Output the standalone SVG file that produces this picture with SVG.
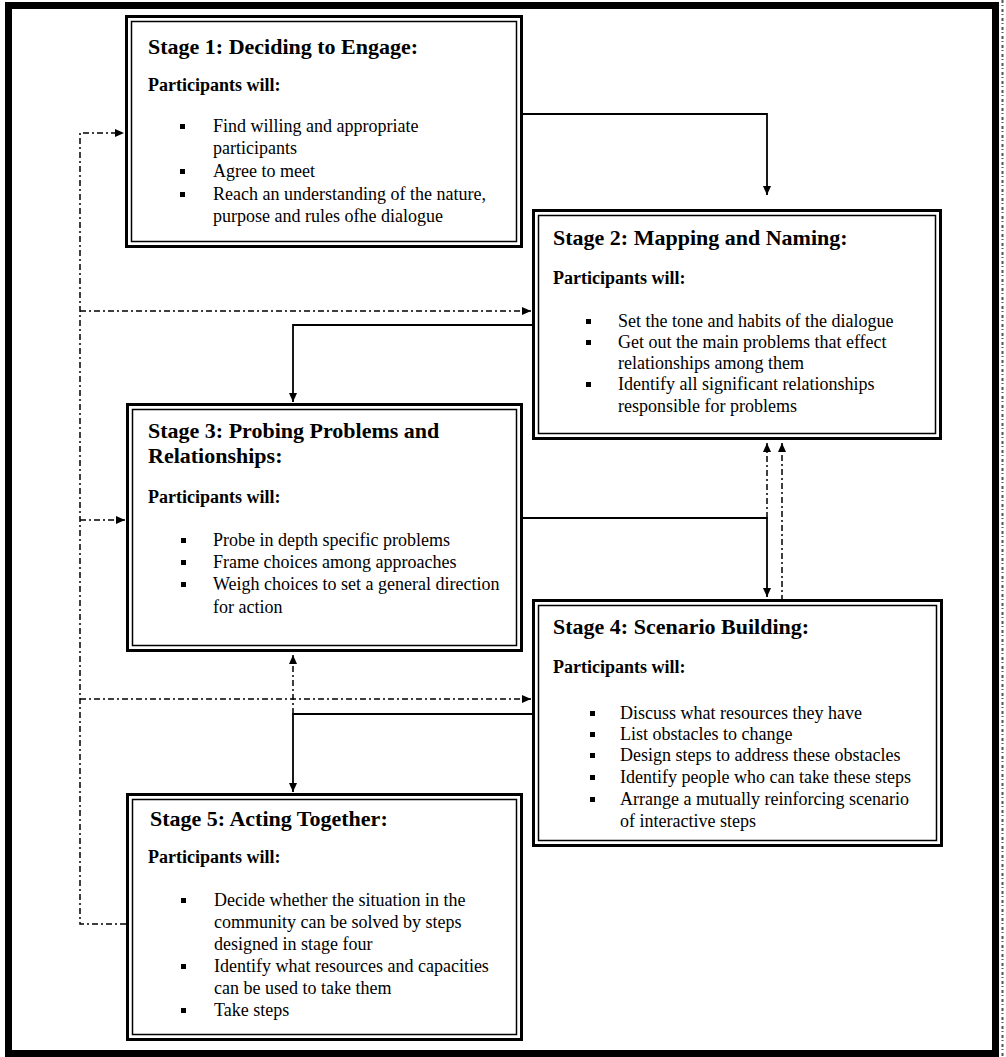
<svg xmlns="http://www.w3.org/2000/svg" width="1006" height="1057" viewBox="0 0 1006 1057">
<style>
.bo{fill:#fff;stroke:#000;stroke-width:3}
.bi{fill:none;stroke:#000;stroke-width:1.5}
.t{font-family:"Liberation Serif",serif;font-weight:bold;font-size:22px;fill:#000}
.s{font-family:"Liberation Serif",serif;font-weight:bold;font-size:18px;fill:#000}
.b{font-family:"Liberation Serif",serif;font-size:18px;fill:#000}
.sq{fill:#000}
.sol{fill:none;stroke:#000;stroke-width:1.8}
.dd{fill:none;stroke:#000;stroke-width:1.5;stroke-dasharray:6 3 2 3}
</style>
<defs>
<marker id="ah" markerUnits="userSpaceOnUse" markerWidth="9" markerHeight="8" refX="9" refY="4" orient="auto">
<path d="M0,0 L9,4 L0,8 z" fill="#000"/>
</marker>
</defs>
<rect x="0" y="0" width="1006" height="1057" fill="#fff"/>
<rect x="8.5" y="5.5" width="987" height="1048" fill="none" stroke="#000" stroke-width="7"/>
<line x1="1002.5" y1="0" x2="1002.5" y2="1057" stroke="#555" stroke-width="2" stroke-dasharray="3 2 1 3"/>

<g id="connectors">
<path class="sol" d="M523,114 H767 V195" marker-end="url(#ah)"/>
<path class="sol" d="M532,325 H293 V402" marker-end="url(#ah)"/>
<path class="sol" d="M523,518 H767 V597" marker-end="url(#ah)"/>
<path class="dd" d="M767,518 V443" marker-end="url(#ah)"/>
<path class="dd" d="M782,615 V443" marker-end="url(#ah)"/>
<path class="dd" d="M126,924 H80 V133 H124" marker-end="url(#ah)"/>
<path class="dd" d="M80,311 H531" marker-end="url(#ah)"/>
<path class="dd" d="M80,520 H125" marker-end="url(#ah)"/>
<path class="dd" d="M80,699 H531" marker-end="url(#ah)"/>
<path class="dd" d="M293,714 V655" marker-end="url(#ah)"/>
<path class="sol" d="M532,714 H293 V792" marker-end="url(#ah)"/>
</g>

<g id="stage1">
<rect class="bo" x="126.5" y="16.5" width="395" height="230"/>
<rect class="bi" x="131.5" y="21.5" width="385" height="220"/>
<text class="t" x="148" y="54">Stage 1: Deciding to Engage:</text>
<text class="s" x="148" y="91">Participants will:</text>
<rect class="sq" x="180" y="124" width="5" height="5"/>
<rect class="sq" x="180" y="169" width="5" height="5"/>
<rect class="sq" x="180" y="192" width="5" height="5"/>
<text class="b" x="213" y="132">Find willing and appropriate</text>
<text class="b" x="213" y="154">participants</text>
<text class="b" x="213" y="177">Agree to meet</text>
<text class="b" x="213" y="200">Reach an understanding of the nature,</text>
<text class="b" x="213" y="222">purpose and rules ofhe dialogue</text>
</g>

<g id="stage2">
<rect class="bo" x="533.5" y="210.5" width="407" height="228"/>
<rect class="bi" x="538.5" y="215.5" width="397" height="218"/>
<text class="t" x="553" y="245">Stage 2: Mapping and Naming:</text>
<text class="s" x="553" y="284">Participants will:</text>
<rect class="sq" x="586" y="319" width="5" height="5"/>
<rect class="sq" x="586" y="340" width="5" height="5"/>
<rect class="sq" x="586" y="382" width="5" height="5"/>
<text class="b" x="618" y="327">Set the tone and habits of the dialogue</text>
<text class="b" x="618" y="348">Get out the main problems that effect</text>
<text class="b" x="618" y="369">relationships among them</text>
<text class="b" x="618" y="390">Identify all significant relationships</text>
<text class="b" x="618" y="412">responsible for problems</text>
</g>

<g id="stage3">
<rect class="bo" x="127.5" y="404.5" width="394" height="246"/>
<rect class="bi" x="132.5" y="409.5" width="384" height="236"/>
<text class="t" x="148" y="438">Stage 3: Probing Problems and</text>
<text class="t" x="148" y="463">Relationships:</text>
<text class="s" x="148" y="503">Participants will:</text>
<rect class="sq" x="181" y="538" width="5" height="5"/>
<rect class="sq" x="181" y="560" width="5" height="5"/>
<rect class="sq" x="181" y="582" width="5" height="5"/>
<text class="b" x="213" y="546">Probe in depth specific problems</text>
<text class="b" x="213" y="568">Frame choices among approaches</text>
<text class="b" x="213" y="590">Weigh choices to set a general direction</text>
<text class="b" x="213" y="613">for action</text>
</g>

<g id="stage4">
<rect class="bo" x="533.5" y="600.5" width="408" height="245"/>
<rect class="bi" x="538.5" y="605.5" width="398" height="235"/>
<text class="t" x="553" y="634">Stage 4: Scenario Building:</text>
<text class="s" x="553" y="673">Participants will:</text>
<rect class="sq" x="590" y="711" width="5" height="5"/>
<rect class="sq" x="590" y="732" width="5" height="5"/>
<rect class="sq" x="590" y="753" width="5" height="5"/>
<rect class="sq" x="590" y="775" width="5" height="5"/>
<rect class="sq" x="590" y="797" width="5" height="5"/>
<text class="b" x="620" y="719">Discuss what resources they have</text>
<text class="b" x="620" y="740">List obstacles to change</text>
<text class="b" x="620" y="761">Design steps to address these obstacles</text>
<text class="b" x="620" y="783">Identify people who can take these steps</text>
<text class="b" x="620" y="805">Arrange a mutually reinforcing scenario</text>
<text class="b" x="620" y="827">of interactive steps</text>
</g>

<g id="stage5">
<rect class="bo" x="127.5" y="794.5" width="394" height="245"/>
<rect class="bi" x="132.5" y="799.5" width="384" height="235"/>
<text class="t" x="150" y="826">Stage 5: Acting Together:</text>
<text class="s" x="148" y="863">Participants will:</text>
<rect class="sq" x="181" y="898" width="5" height="5"/>
<rect class="sq" x="181" y="964" width="5" height="5"/>
<rect class="sq" x="181" y="1008" width="5" height="5"/>
<text class="b" x="214" y="906">Decide whether the situation in the</text>
<text class="b" x="214" y="928">community can be solved by steps</text>
<text class="b" x="214" y="950">designed in stage four</text>
<text class="b" x="214" y="972">Identify what resources and capacities</text>
<text class="b" x="214" y="994">can be used to take them</text>
<text class="b" x="214" y="1016">Take steps</text>
</g>
</svg>
